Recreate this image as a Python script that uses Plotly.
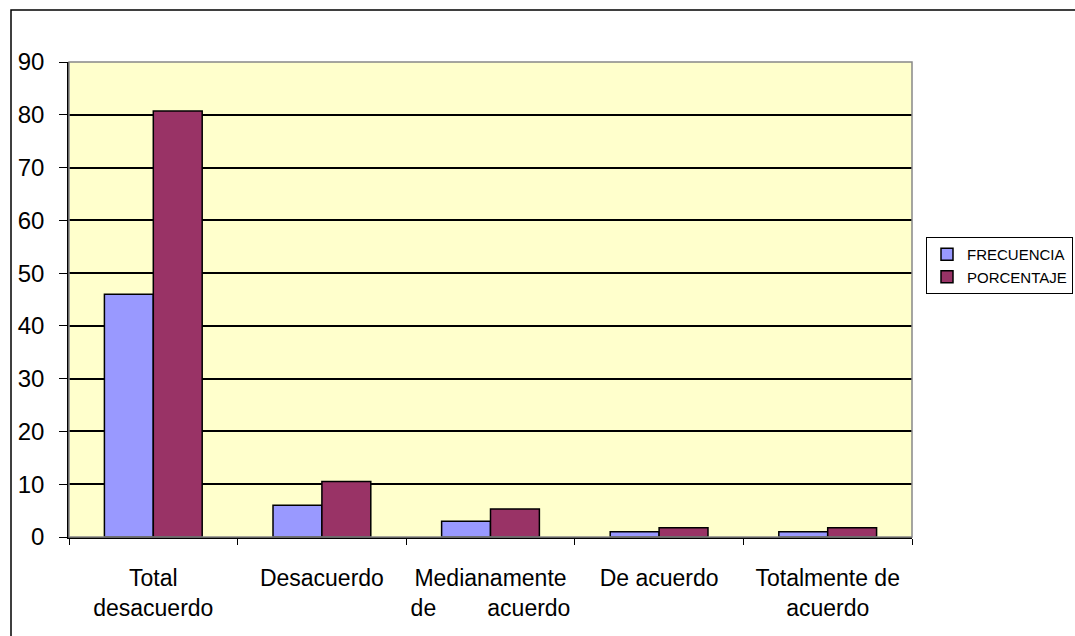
import plotly.graph_objects as go

categories = ["Total<br>desacuerdo", "Desacuerdo",
              "Medianamente<br>de\u00a0\u00a0\u00a0\u00a0\u00a0\u00a0\u00a0\u00a0acuerdo",
              "De acuerdo", "Totalmente de<br>acuerdo"]
frecuencia = [46, 6, 3, 1, 1]
porcentaje = [80.7, 10.5, 5.3, 1.75, 1.75]
y_ticks = [0, 10, 20, 30, 40, 50, 60, 70, 80, 90]

W, H = 1075, 636
L, R, T, B = 69, 912, 62, 537

def px(x):
    return (x - L) / (R - L)

def py(y):
    return (B - y) / (B - T)

fig = go.Figure()
fig.add_trace(go.Bar(x=categories, y=frecuencia, name="FRECUENCIA", legendgroup="a",
                     marker=dict(color="#9999FF", line=dict(color="black", width=1.5))))
fig.add_trace(go.Bar(x=categories, y=porcentaje, name="PORCENTAJE", legendgroup="b",
                     marker=dict(color="#993366", line=dict(color="black", width=1.5))))

fig.update_layout(
    width=W, height=H,
    margin=dict(l=L, r=W - R, t=T, b=H - B, pad=0, autoexpand=False),
    paper_bgcolor="white", plot_bgcolor="#FFFFCC",
    barmode="group", bargap=0.42, bargroupgap=0,
    font=dict(family="Liberation Sans, Arial, sans-serif", color="black"),
    legend=dict(x=px(926), y=py(237), xanchor="left", yanchor="top",
                bordercolor="black", borderwidth=1, bgcolor="white",
                font=dict(size=15), tracegroupgap=18, traceorder="normal",
                itemwidth=30),
    showlegend=True,
)
fig.update_yaxes(range=[0, 90], tickvals=y_ticks, showgrid=True, gridcolor="black", gridwidth=1.5,
                 showline=True, linecolor="black", linewidth=1.5, ticks="outside", ticklen=8,
                 tickcolor="black", tickfont=dict(size=24), zeroline=False, ticklabelstandoff=10)
fig.update_xaxes(showline=True, linecolor="black", linewidth=1.5, ticks="outside", ticklen=6,
                 tickson="boundaries", tickcolor="black", tickfont=dict(size=23),
                 tickangle=0, ticklabelstandoff=20)

fig.add_shape(type="rect", xref="paper", yref="paper", x0=0, x1=1, y0=0, y1=1,
              line=dict(color="#888888", width=1.5), layer="above")
fig.add_shape(type="path", xref="paper", yref="paper",
              path=f"M {px(11)} {py(640)} L {px(11)} {py(10)} L {px(1080)} {py(10)}",
              line=dict(color="black", width=1.5))

fig.write_html("out.html")
